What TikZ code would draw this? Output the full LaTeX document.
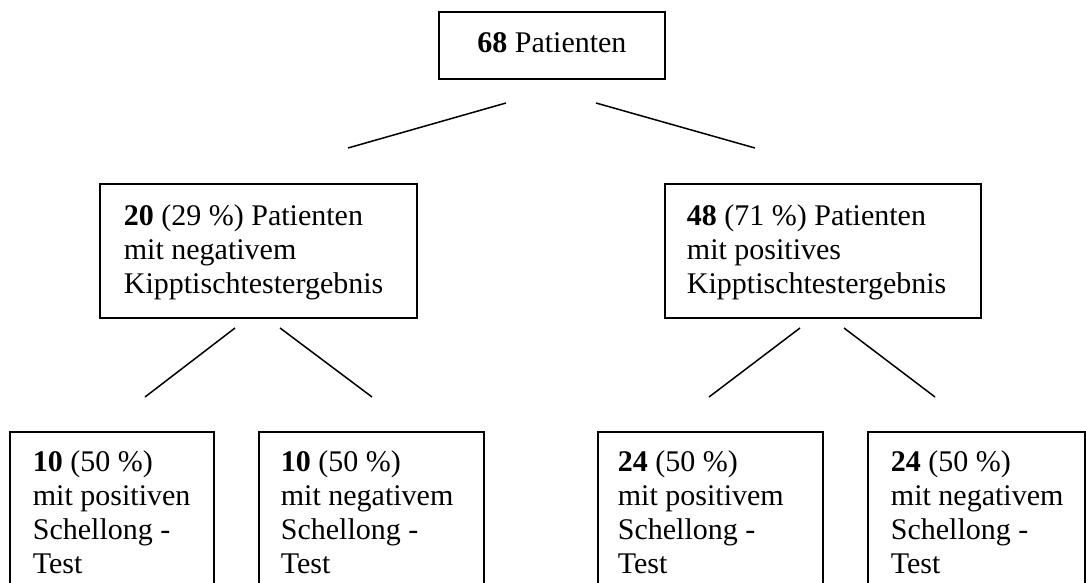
\documentclass[tikz,border=0pt]{standalone}
\usepackage{fontspec}
\setmainfont{Liberation Serif}
\newcommand{\boxtext}[2]{\makebox[#1][l]{\begin{tabular}[t]{@{}l@{}}#2\end{tabular}}}
\tikzset{
  box/.style={draw=black, line width=1.8pt, inner ysep=0pt, anchor=north west,
    font=\fontsize{30}{34}\selectfont},
  conn/.style={draw=black, line width=1.5pt}
}
\begin{document}
\begin{tikzpicture}[x=1pt,y=1pt]
\useasboundingbox[fill=white] (0,0) rectangle (1086,-583);
\begin{scope}
\clip (0,0) rectangle (1086,-583);
% top
\node[box, inner xsep=0pt, minimum width=226pt, text height=41pt, text depth=26pt] (top) at (438,-11)
  {\textbf{68} Patienten};
% middle
\node[box, inner xsep=24pt, text height=42pt, text depth=92pt] (neg) at (99,-183)
  {\boxtext{269pt}{\textbf{20} (29~\%) Patienten\\mit negativem\\Kipptischtestergebnis}};
\node[box, inner xsep=22pt, text height=42pt, text depth=92pt] (pos) at (664,-183)
  {\boxtext{272pt}{\textbf{48} (71~\%) Patienten\\mit positives\\Kipptischtestergebnis}};
% bottom
\node[box, inner xsep=23pt, text height=40pt, text depth=160pt] (b1) at (9,-431)
  {\boxtext{158pt}{\textbf{10} (50~\%)\\mit positiven\\Schellong -\\Test}};
\node[box, inner xsep=22pt, text height=40pt, text depth=160pt] (b2) at (258,-431)
  {\boxtext{181pt}{\textbf{10} (50~\%)\\mit negativem\\Schellong -\\Test}};
\node[box, inner xsep=20pt, text height=40pt, text depth=160pt] (b3) at (597,-431)
  {\boxtext{185pt}{\textbf{24} (50~\%)\\mit positivem\\Schellong -\\Test}};
\node[box, inner xsep=23pt, text height=40pt, text depth=160pt] (b4) at (867,-431)
  {\boxtext{171pt}{\textbf{24} (50~\%)\\mit negativem\\Schellong -\\Test}};
\end{scope}
% connector end points
\coordinate (t1a) at (506,-103);
\coordinate (t1b) at (348,-148);
\coordinate (t2a) at (596,-103);
\coordinate (t2b) at (755,-148);
\coordinate (n1a) at (235,-328);
\coordinate (n1b) at (145,-397);
\coordinate (n2a) at (280,-328);
\coordinate (n2b) at (372,-397);
\coordinate (p1a) at (800,-328);
\coordinate (p1b) at (709,-397);
\coordinate (p2a) at (844,-328);
\coordinate (p2b) at (935,-397);
\draw[conn] (t1a) -- (t1b);
\draw[conn] (t2a) -- (t2b);
\draw[conn] (n1a) -- (n1b);
\draw[conn] (n2a) -- (n2b);
\draw[conn] (p1a) -- (p1b);
\draw[conn] (p2a) -- (p2b);
\end{tikzpicture}
\end{document}
